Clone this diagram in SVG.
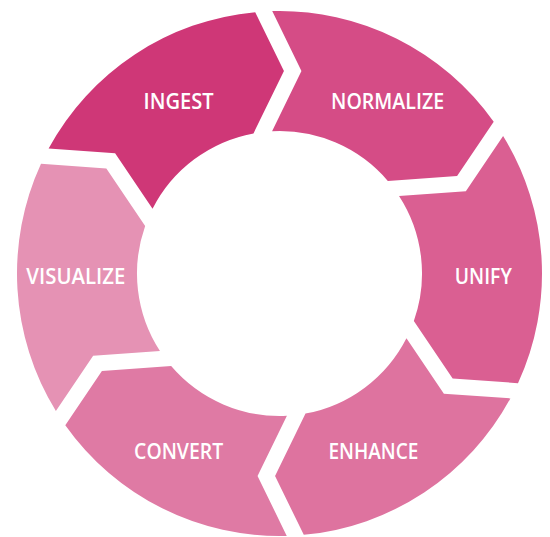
<svg xmlns="http://www.w3.org/2000/svg" xmlns:xlink="http://www.w3.org/1999/xlink" width="550" height="537" viewBox="0 0 550 537">
  <style>
    .label { font-family: "Open Sans", "Noto Sans", "Liberation Sans", sans-serif; font-weight: 600; font-size: 21px; fill: #ffffff; text-anchor: middle; }
  </style>
  <defs>
    <!-- One ring step spanning 0..60 degrees (clockwise from top), notched at its tail and pointed at its head.
         Coordinates are relative to the ring centre; other steps are rotated copies. -->
    <path id="step" d="M -7.28 -262.4 A 262.5 262.5 0 0 1 214.21 -151.72 L 177.59 -97.40 L 108.34 -92.58 A 142.5 142.5 0 0 0 -7.42 -142.31 L 21.95 -202.5 Z"/>
  </defs>
  <rect width="550" height="537" fill="#ffffff"/>

  <g id="ring" transform="translate(279.5 273.5)">
    <g id="normalize"><use xlink:href="#step" href="#step" fill="#d54c86"/></g>
    <g id="unify"><use xlink:href="#step" href="#step" transform="rotate(60)" fill="#da5f92"/></g>
    <g id="enhance"><use xlink:href="#step" href="#step" transform="rotate(120)" fill="#de739f"/></g>
    <g id="convert"><use xlink:href="#step" href="#step" transform="rotate(180)" fill="#df7aa4"/></g>
    <g id="visualize"><use xlink:href="#step" href="#step" transform="rotate(240)" fill="#e592b4"/></g>
    <g id="ingest"><use xlink:href="#step" href="#step" transform="rotate(300)" fill="#cf3777"/></g>
  </g>

  <g id="labels">
    <text class="label" x="178.6" y="108.7" textLength="70" lengthAdjust="spacingAndGlyphs">INGEST</text>
    <text class="label" x="387.6" y="108.7" textLength="113" lengthAdjust="spacingAndGlyphs">NORMALIZE</text>
    <text class="label" x="483.3" y="283.5" textLength="57" lengthAdjust="spacingAndGlyphs">UNIFY</text>
    <text class="label" x="373.4" y="458.7" textLength="90" lengthAdjust="spacingAndGlyphs">ENHANCE</text>
    <text class="label" x="178.6" y="458.7" textLength="89" lengthAdjust="spacingAndGlyphs">CONVERT</text>
    <text class="label" x="75.8" y="283.5" textLength="99" lengthAdjust="spacingAndGlyphs">VISUALIZE</text>
  </g>
</svg>
